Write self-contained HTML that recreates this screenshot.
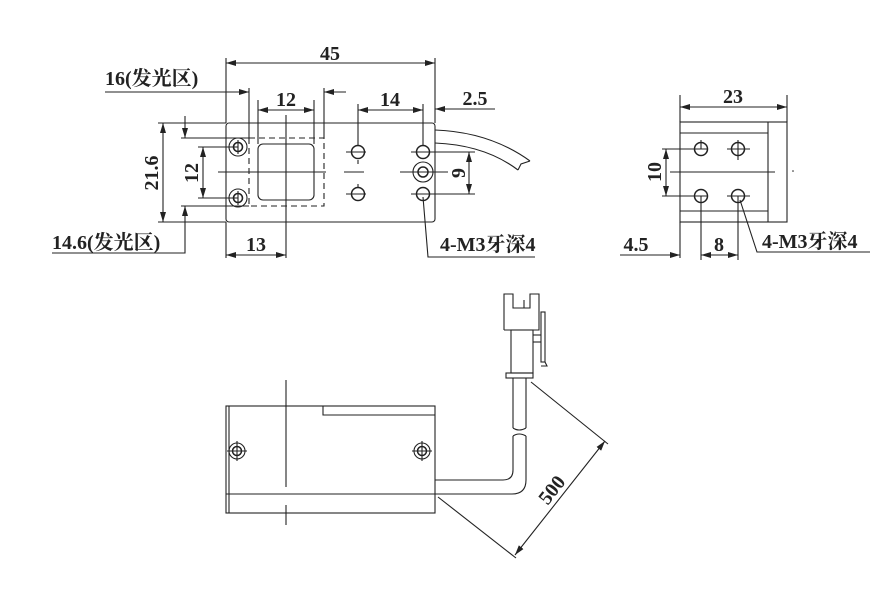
<!DOCTYPE html>
<html><head><meta charset="utf-8"><style>
html,body{margin:0;padding:0;background:#fff;}
svg{display:block;}
text{font-family:"Liberation Serif","Noto Serif CJK SC",serif;font-weight:bold;fill:#222;font-size:20px;}
</style></head><body>
<svg width="888" height="592" viewBox="0 0 888 592" xmlns="http://www.w3.org/2000/svg">
<defs>
<marker id="a" viewBox="0 0 10 6" refX="10" refY="3" markerWidth="10" markerHeight="6" orient="auto-start-reverse" markerUnits="userSpaceOnUse"><path d="M0,0L10,3L0,6z" fill="#222"/></marker>
</defs>
<g stroke="#222" stroke-width="1.1" fill="none">
<!-- FRONT VIEW -->
<rect x="226" y="123" width="209" height="99" rx="3"/>
<rect x="249" y="138" width="75" height="68" stroke-dasharray="6,4"/>
<rect x="258" y="144" width="56" height="56" rx="5"/>
<line x1="286" y1="115" x2="286" y2="258"/>
<line x1="218" y1="172" x2="326" y2="172"/>
<line x1="344" y1="172" x2="364" y2="172" />
<line x1="400" y1="172" x2="448" y2="172"/>
<circle cx="238" cy="147" r="9"/><circle cx="238" cy="147" r="4.5" stroke-width="1.6"/>
<circle cx="238" cy="198" r="9"/><circle cx="238" cy="198" r="4.5" stroke-width="1.6"/>
<line x1="238" y1="140" x2="238" y2="154"/><line x1="238" y1="191" x2="238" y2="205"/>
<circle cx="358" cy="152" r="6.5" stroke-width="1.5"/><circle cx="358" cy="194" r="6.5" stroke-width="1.5"/>
<line x1="346" y1="152" x2="366" y2="152"/><line x1="346" y1="194" x2="366" y2="194"/>
<line x1="358" y1="160" x2="358" y2="164"/><line x1="358" y1="184" x2="358" y2="188"/>
<circle cx="423" cy="152" r="6.5" stroke-width="1.5"/><circle cx="423" cy="194" r="6.5" stroke-width="1.5"/>
<circle cx="423" cy="172" r="10"/><circle cx="423" cy="172" r="5" stroke-width="1.5"/>
<line x1="411" y1="152" x2="475" y2="152"/><line x1="411" y1="194" x2="475" y2="194"/>
<path d="M435,130 Q490,132 530,161"/>
<path d="M435,143 Q485,145 518,170"/>
<path d="M530,161 L521,164 L518,170"/>
<line x1="226" y1="58" x2="226" y2="123"/><line x1="435" y1="58" x2="435" y2="123"/>
<line x1="226" y1="258" x2="226" y2="222"/>
<line x1="226" y1="63" x2="435" y2="63" marker-start="url(#a)" marker-end="url(#a)"/>
<line x1="249" y1="88" x2="249" y2="138"/><line x1="324" y1="88" x2="324" y2="138"/>
<line x1="105" y1="92" x2="249" y2="92" marker-end="url(#a)"/>
<line x1="346" y1="92" x2="324" y2="92" marker-end="url(#a)"/>
<line x1="258" y1="100" x2="258" y2="144"/><line x1="314" y1="100" x2="314" y2="144"/>
<line x1="258" y1="110" x2="314" y2="110" marker-start="url(#a)" marker-end="url(#a)"/>
<line x1="358" y1="104" x2="358" y2="146"/><line x1="423" y1="104" x2="423" y2="146"/>
<line x1="358" y1="110" x2="423" y2="110" marker-start="url(#a)" marker-end="url(#a)"/>
<line x1="495" y1="109" x2="435" y2="109" marker-end="url(#a)"/>
<line x1="158" y1="123" x2="226" y2="123"/><line x1="158" y1="222" x2="226" y2="222"/>
<line x1="163" y1="123" x2="163" y2="222" marker-start="url(#a)" marker-end="url(#a)"/>
<line x1="198" y1="147" x2="238" y2="147"/><line x1="198" y1="198" x2="238" y2="198"/>
<line x1="203" y1="147" x2="203" y2="198" marker-start="url(#a)" marker-end="url(#a)"/>
<line x1="181" y1="138" x2="249" y2="138"/><line x1="181" y1="206" x2="249" y2="206"/>
<line x1="185" y1="116" x2="185" y2="138" marker-end="url(#a)"/>
<polyline points="52,253 185,253 185,206" marker-end="url(#a)"/>
<line x1="226" y1="255" x2="286" y2="255" marker-start="url(#a)" marker-end="url(#a)"/>
<line x1="469" y1="152" x2="469" y2="194" marker-start="url(#a)" marker-end="url(#a)"/>
<polyline points="423,197 428,257 535,257"/>

<!-- SIDE VIEW -->
<rect x="680" y="122" width="107" height="100"/>
<line x1="768" y1="122" x2="768" y2="222"/>
<line x1="680" y1="133" x2="768" y2="133"/><line x1="680" y1="211" x2="768" y2="211"/>
<line x1="670" y1="172" x2="775" y2="172"/>
<circle cx="701" cy="149" r="6.5" stroke-width="1.5"/><circle cx="738" cy="149" r="6.5" stroke-width="1.5"/>
<circle cx="701" cy="196" r="6.5" stroke-width="1.5"/><circle cx="738" cy="196" r="6.5" stroke-width="1.5"/>
<line x1="727" y1="149" x2="750" y2="149"/><line x1="738" y1="140" x2="738" y2="160"/>
<line x1="701" y1="140" x2="701" y2="149"/><line x1="727" y1="196" x2="750" y2="196"/>
<line x1="662" y1="149" x2="708" y2="149"/><line x1="662" y1="196" x2="708" y2="196"/>
<line x1="666" y1="149" x2="666" y2="196" marker-start="url(#a)" marker-end="url(#a)"/>
<line x1="680" y1="95" x2="680" y2="122"/><line x1="787" y1="95" x2="787" y2="122"/>
<line x1="680" y1="107" x2="787" y2="107" marker-start="url(#a)" marker-end="url(#a)"/>
<line x1="680" y1="222" x2="680" y2="258"/>
<line x1="620" y1="255" x2="680" y2="255" marker-end="url(#a)"/>
<line x1="701" y1="196" x2="701" y2="260"/><line x1="738" y1="196" x2="738" y2="260"/>
<line x1="701" y1="255" x2="738" y2="255" marker-start="url(#a)" marker-end="url(#a)"/>
<polyline points="740,200 757,252 870,252"/>

<!-- BOTTOM VIEW -->
<rect x="226" y="406" width="209" height="107"/>
<line x1="229" y1="406" x2="229" y2="513"/>
<polyline points="323,406 323,415 435,415"/>
<line x1="226" y1="494" x2="435" y2="494"/>
<line x1="286" y1="380" x2="286" y2="487"/><line x1="286" y1="505" x2="286" y2="525"/>
<circle cx="237" cy="451" r="8"/><circle cx="237" cy="451" r="4.5" stroke-width="1.5"/>
<circle cx="422" cy="451" r="8"/><circle cx="422" cy="451" r="4.5" stroke-width="1.5"/>
<line x1="227" y1="451" x2="247" y2="451"/><line x1="237" y1="441" x2="237" y2="461"/>
<line x1="412" y1="451" x2="432" y2="451"/><line x1="422" y1="441" x2="422" y2="461"/>
<path d="M435,480 L503,480 Q513,480 513,470 L513,436"/>
<path d="M435,494 L512,494 Q526,494 526,480 L526,436"/>
<path d="M513,436 Q519,432 526,436"/>
<path d="M513,428 Q519,432 526,428"/>
<line x1="513" y1="428" x2="513" y2="378"/><line x1="526" y1="428" x2="526" y2="378"/>
<rect x="506" y="373" width="27" height="5"/>
<rect x="511" y="330" width="22" height="43"/>
<polyline points="504,330 504,294 513,294 513,308 530,308 530,294 539,294 539,330 504,330"/>
<line x1="524" y1="300" x2="524" y2="308"/>
<rect x="541" y="312" width="4" height="50"/>
<polyline points="545,362 547,366 541,366"/>
<line x1="533" y1="335" x2="541" y2="335"/><line x1="533" y1="342" x2="541" y2="342"/>
<line x1="531" y1="382" x2="608" y2="444"/>
<line x1="438" y1="497" x2="516" y2="558"/>
<line x1="605" y1="441" x2="515" y2="555" marker-start="url(#a)" marker-end="url(#a)"/>
</g>
<text x="330" y="60" text-anchor="middle">45</text>
<text x="105" y="85">16(发光区)</text>
<text x="286" y="106" text-anchor="middle">12</text>
<text x="390" y="106" text-anchor="middle">14</text>
<text x="475" y="105" text-anchor="middle">2.5</text>
<text transform="translate(158,173) rotate(-90)" text-anchor="middle">21.6</text>
<text transform="translate(198,173) rotate(-90)" text-anchor="middle">12</text>
<text transform="translate(465,173) rotate(-90)" text-anchor="middle">9</text>
<text x="52" y="249">14.6(发光区)</text>
<text x="256" y="251" text-anchor="middle">13</text>
<text x="440" y="251">4-M3牙深4</text>
<text x="733" y="103" text-anchor="middle">23</text>
<text transform="translate(661,172) rotate(-90)" text-anchor="middle">10</text>
<text x="636" y="251" text-anchor="middle">4.5</text>
<text x="719" y="251" text-anchor="middle">8</text>
<text x="762" y="248">4-M3牙深4</text>
<text transform="translate(557,494) rotate(-52)" text-anchor="middle">500</text>
<circle cx="793" cy="171" r="0.8" fill="#222"/>
</svg>
</body></html>
